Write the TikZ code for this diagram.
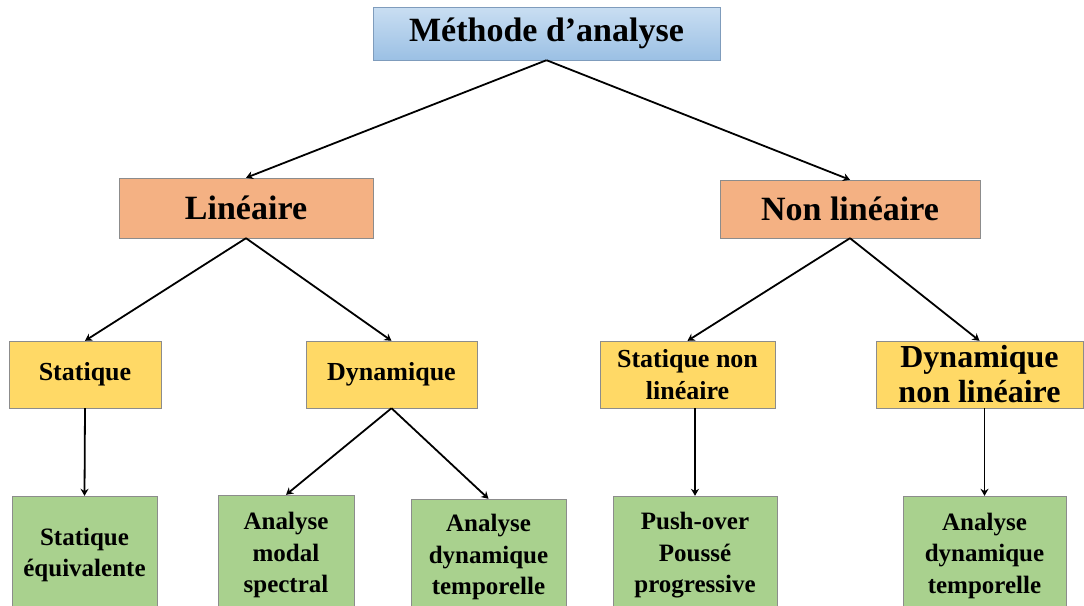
\documentclass[tikz,border=0pt]{standalone}
\usepackage{fontspec}
\setmainfont{Liberation Serif}
\usepackage{tikz}
\usetikzlibrary{arrows.meta,positioning}
\definecolor{topblueA}{HTML}{C9DEF2}
\definecolor{topblueB}{HTML}{9BC0E4}
\definecolor{topedge}{HTML}{7F9CBC}
\definecolor{boxorange}{HTML}{F4B183}
\definecolor{boxyellow}{HTML}{FFD966}
\definecolor{boxgreen}{HTML}{A9D18E}
\definecolor{boxedge}{HTML}{8C8C8C}
\tikzset{
  methbox/.style={rectangle, draw=topedge, top color=topblueA, bottom color=topblueB, align=center, inner sep=0pt, font=\bfseries\fontsize{34}{38}\selectfont},
  famboxx/.style={rectangle, draw=boxedge, fill=boxorange, align=center, inner sep=0pt, font=\bfseries\fontsize{34}{38}\selectfont},
  typebox/.style={rectangle, draw=boxedge, fill=boxyellow, align=center, inner sep=0pt, font=\bfseries\fontsize{26}{32}\selectfont},
  leafbox/.style={rectangle, draw=boxedge, fill=boxgreen, align=center, inner sep=0pt, font=\bfseries\fontsize{25}{31.5}\selectfont},
  treearrow/.style={-{Stealth[length=7pt, width=8pt]}, line width=1.8pt}
}

\begin{document}
\begin{tikzpicture}[x=1pt, y=-1pt]
\clip (0,0) rectangle (1084,605);

\node[methbox, minimum width=347pt, minimum height=53pt] (meth) at (546.5,33.5) {Méthode d’analyse};

\node[famboxx, minimum width=254pt, minimum height=60pt] (lin) at (246,208) {Linéaire};
\node[famboxx, minimum width=260pt, minimum height=58pt] (nonlin) at (850,209) {Non linéaire};
\draw[treearrow] (meth.south) -- (lin.north);
\draw[treearrow] (meth.south) -- (nonlin.north);

\node[typebox, minimum width=152pt, minimum height=67pt] (stat) at (85,374.5) {Statique};
\node[typebox, minimum width=171pt, minimum height=67pt] (dyn) at (391.5,374.5) {Dynamique};
\node[typebox, minimum width=175pt, minimum height=67pt] (statnl) at (687.5,374.5) {Statique non\\linéaire};
\node[typebox, minimum width=207pt, minimum height=67pt, font=\bfseries\fontsize{32}{35}\selectfont] (dynnl) at (979.5,374.5) {Dynamique\\non linéaire};
\draw[treearrow] (lin.south) -- (stat.north);
\draw[treearrow] (lin.south) -- (dyn.north);
\draw[treearrow] (nonlin.south) -- (statnl.north);
\draw[treearrow] (nonlin.south) -- (dynnl.north);

\node[leafbox, minimum width=145pt, minimum height=118pt] (equiv) at (84.5,555) {Statique\\équivalente};
\node[leafbox, minimum width=136pt, minimum height=120pt] (modal) at (286,555) {Analyse\\modal\\spectral};
\node[leafbox, minimum width=155pt, minimum height=116pt] (temp) at (488.5,557) {Analyse\\dynamique\\temporelle};
\node[leafbox, minimum width=164pt, minimum height=119pt] (push) at (695,555.5) {Push-over\\Poussé\\progressive};
\node[leafbox, minimum width=163pt, minimum height=119pt] (tempnl) at (984.5,555.5) {Analyse\\dynamique\\temporelle};
\draw[treearrow] (stat.south) -- (equiv.north);
\draw[treearrow] (dyn.south) -- (modal.north);
\draw[treearrow] (dyn.south) -- (temp.north);
\draw[treearrow] (statnl.south -| push.north) -- (push.north);
\draw[treearrow] (dynnl.south -| tempnl.north) -- (tempnl.north);
\end{tikzpicture}
\end{document}
